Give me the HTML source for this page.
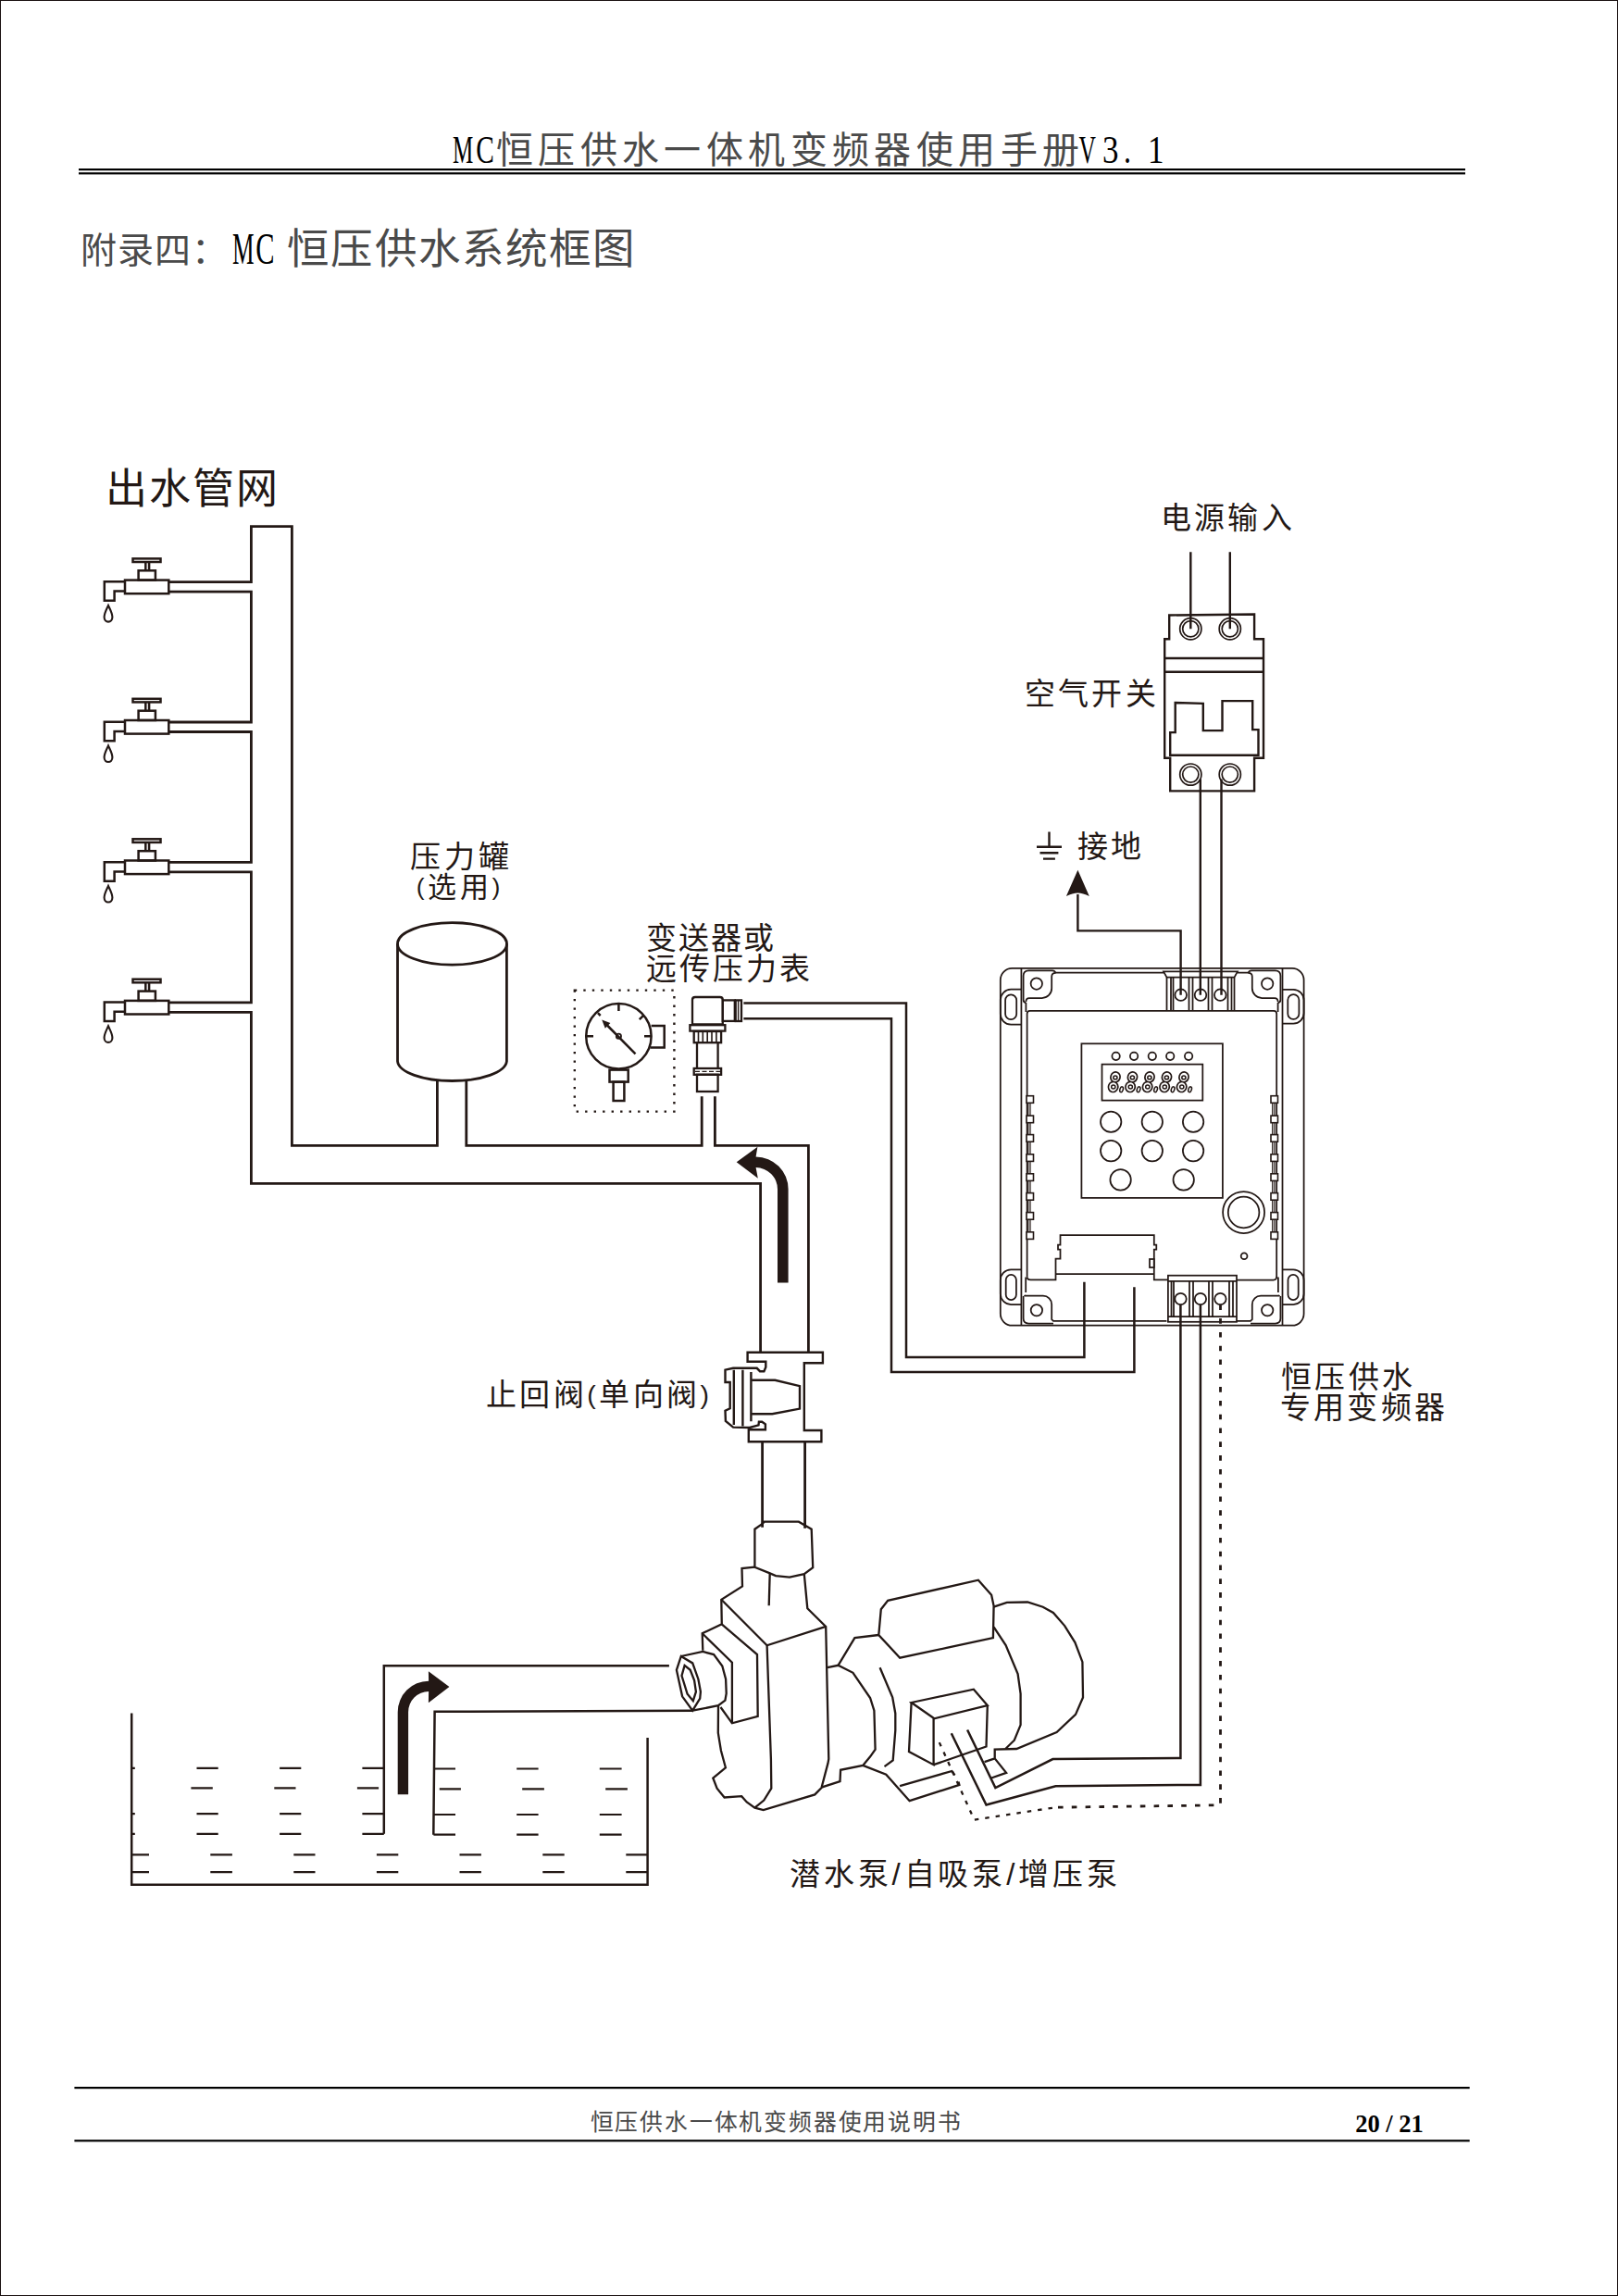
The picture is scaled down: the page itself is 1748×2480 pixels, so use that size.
<!DOCTYPE html>
<html lang="zh-CN"><head><meta charset="utf-8"><title>MC恒压供水系统框图</title>
<style>
html,body{margin:0;padding:0;background:#fff}
body{width:1748px;height:2480px;position:relative;overflow:hidden;font-family:"Liberation Serif",serif;color:#000}
.pg{position:absolute;left:0;top:0;width:1746px;height:2478px;border:1px solid #1a1010}
.t{position:absolute;white-space:nowrap;line-height:1;margin:0;font-weight:normal}
.lb{color:#231815;font-family:"Liberation Sans",sans-serif}
.ss{color:#4a4a4a}
.pr{font-size:0.86em;position:relative;top:-0.06em}
svg{position:absolute;left:0;top:0}
</style></head><body>
<div class="pg"></div>
<svg width="1748" height="2480" viewBox="0 0 1748 2480">
<!-- header / footer rules -->
<g fill="#000">
<rect x="85" y="182" width="1498" height="2.2"/>
<rect x="85" y="186.2" width="1498" height="2.2"/>
<rect x="80.4" y="2254" width="1507.3" height="2.2"/>
<rect x="80.4" y="2311.2" width="1507.3" height="2.2"/>
</g>
<defs>
<g id="fct" fill="none" stroke="#231815" stroke-width="2.5">
<rect x="135" y="626.6" width="47.3" height="14.6"/>
<rect x="149.6" y="616.3" width="18.3" height="10.3"/>
<path d="M157.3,607V616.3M161.1,607V616.3"/>
<rect x="143.5" y="603.4" width="30" height="3.6"/>
<path d="M135,628.3H112.8V648.8H123.6V638.5H135"/>
<path stroke-width="2.1" d="M117,654C115.2,658 112.6,662.5 112.6,666.6C112.6,669.7 114.6,671.6 117,671.6C119.4,671.6 121.4,669.7 121.4,666.6C121.4,662.5 118.8,658 117,654Z"/>
</g>
</defs>
<use href="#fct"/>
<use href="#fct" y="151.4"/>
<use href="#fct" y="302.9"/>
<use href="#fct" y="454.3"/>
<g fill="none" stroke="#231815" stroke-width="2.8" stroke-linejoin="miter">
<!-- main pipe network -->
<path d="M182.3,628.6H271.4V568.6H315.4V1237.4H472.4V1168"/>
<path d="M182.3,639.1H271.4V780H182.3M182.3,790.5H271.4V931.4H182.3M182.3,941.9H271.4V1082.8H182.3M182.3,1093.3H271.4V1278.3H821.6V1460.8"/>
<path d="M503.8,1168V1237.4H758.2V1184.2M772.4,1184.2V1237.4H873.4V1460.8"/>
<!-- pressure tank -->
<ellipse cx="488.5" cy="1019.4" rx="59" ry="22.7"/>
<path d="M429.5,1019.4V1146.4A59,22 0 0 0 547.4,1146.4V1019.4"/>
<!-- pipe below check valve to pump -->
<path d="M823.6,1557.2V1649.7M869.6,1557.2V1650.7"/>
</g>
<!-- gauge -->
<rect x="620.8" y="1069.6" width="107.6" height="131" fill="none" stroke="#231815" stroke-width="2.4" stroke-dasharray="2.4 7.1"/>
<g fill="none" stroke="#231815" stroke-width="2.5">
<circle cx="668.4" cy="1119.3" r="35.2"/>
<path d="M668.4,1084.5V1092M633.5,1119.3H641M696,1119.3H703.5M645.9,1094.2L648.7,1097M690.8,1101.1L695.2,1096.8"/>
<path d="M686.5,1138.3L656,1107.5"/>
<circle cx="668.4" cy="1119.3" r="2.6" stroke-width="1.8"/>
<path d="M703.6,1108H717.7V1131.4H702.5"/>
<rect x="658.5" y="1155.6" width="20.2" height="13"/>
<rect x="662.6" y="1168.6" width="11.8" height="20.4"/>
</g>
<path d="M650.2,1101.5L659.4,1104.9L653.8,1110.7Z" fill="#231815"/>
<!-- transmitter -->
<g fill="none" stroke="#231815" stroke-width="2.3">
<path d="M748,1106.3V1080Q748,1077 751,1077H777.8Q780.8,1077 780.8,1080V1106.3Z"/>
<rect x="780.8" y="1080.4" width="13" height="22.5"/>
<rect x="794.7" y="1080.4" width="6.3" height="22.6"/>
<path d="M797.6,1080.4V1103" stroke-width="1.4"/>
<rect x="745.4" y="1107.2" width="38" height="6.4"/>
<rect x="749.7" y="1114" width="29.4" height="12.2"/>
<path d="M754.5,1114V1126.2M759.3,1114V1126.2M764.2,1114V1126.2M769,1114V1126.2M773.9,1114V1126.2" stroke-width="1.6"/>
<path d="M753,1126.2V1154M775.6,1126.2V1154"/>
<rect x="749.7" y="1154" width="29.4" height="6.8"/>
<path d="M751,1157.4H779" stroke-width="1.3" stroke-dasharray="5 2.5"/>
<rect x="753" y="1160.8" width="22.6" height="18.2"/>
</g>
<!-- transmitter cable -->
<path d="M803.4,1083.4H979V1466H1171.4V1384.8M803.4,1100.2H963V1481.9H1225.4V1390.3" fill="none" stroke="#231815" stroke-width="2.5"/>
<!-- flow arrows -->
<path fill="#231815" d="M840,1385.5H851.6V1284.5A35,35 0 0 0 816.6,1249.5L818.4,1238.7L795.7,1255.3L818.8,1272.7L816.6,1261.1A23.4,23.4 0 0 1 840,1284.5Z"/>
<path fill="#231815" d="M429.7,1938.2V1849.2A33.4,33.4 0 0 1 463.1,1815.8L462.9,1805.3L485.4,1821.9L462.9,1839.3L463.1,1827A22.2,22.2 0 0 0 441.1,1849.2V1938.2Z"/>
<!-- check valve -->
<g fill="none" stroke="#231815" stroke-width="2.4" stroke-linejoin="miter">
<path d="M807.6,1460.8H888.9V1472.3H868.8V1545H887.4V1557.2H808.8V1544.2H826.9V1538.3L823.2,1535.7H819.9L819.5,1539.4L809.9,1542L792.1,1541.6L783.9,1534.9L783.5,1523.8L788.7,1521.2V1493H783.5V1479.7L792.1,1477.8H817.7L821,1481.2H825.4L827.3,1476.7V1470.8H807.6Z"/>
<path d="M792.8,1479.7V1539M802.4,1479.7V1540.5M811.4,1481.9V1535.3"/>
<path d="M812.1,1490.8H837.3L864,1497.1V1521.6L834.3,1527.2H812.1"/>
</g>

<!-- water tank and inlet pipe -->
<g fill="none" stroke="#231815" stroke-width="2.5">
<path d="M142.2,1850.4V2035.8H699.6L699.6,1876.9"/>
<path d="M414.8,1980.7V1799.3H722.9M468.3,1981.7L469.6,1848.8L748.2,1847.7"/>
</g>
<g fill="none" stroke="#231815" stroke-width="2.2">
<path d="M142,1909.8H145.8M212.5,1909.8H235.7M302.1,1909.8H325.3M391.4,1909.8H414.8M468.4,1910.5H492M558.2,1910.5H581.6M647.8,1910.5H671.6"/>
<path d="M206.4,1931.4H229.8M296.3,1931.4H319.5M385.9,1931.4H409.1M474.8,1932.3H497.9M564.2,1932.3H587.9M654.2,1932.3H677.9"/>
<path d="M142,1959.2H145.8M212.5,1959.2H235.7M302.1,1959.2H325.3M391.4,1959.2H414.8M468.4,1960H492M558.2,1960H581.6M647.8,1960H671.6"/>
<path d="M142,1980.9H145.8M212.5,1980.9H235.7M302.1,1980.9H325.3M391.4,1980.9H414.8M468.4,1981.7H492M558.2,1981.7H581.6M647.8,1981.7H671.6"/>
<path d="M142,2003.4H161M227.3,2003.4H250.9M317.3,2003.4H340.5M406.9,2003.4H430.3M496.5,2003.4H519.9M586.3,2003.4H609.7M676.3,2003.4H699.6"/>
<path d="M142,2022.2H161M227.3,2022.2H250.9M317.3,2022.2H340.5M406.9,2022.2H430.3M496.5,2022.2H519.9M586.3,2022.2H609.7M676.3,2022.2H699.6"/>
</g>
<!-- pump -->
<g fill="none" stroke="#231815" stroke-width="2.3" stroke-linejoin="miter">
<path d="M825.8,1643.7L862.9,1643.7L876.7,1651.7L878.2,1693.2L868.8,1700.1L853,1703.6L838.1,1702.1L831.2,1699.1L815.4,1692.7L815.4,1651.7L823.3,1646.2Z"/>
<path d="M868.8,1700.1L872.3,1737.2L892.2,1756.9L895.3,1900L894.5,1904.4L887.7,1930.3"/>
<path d="M831.7,1699.6L830.7,1734.2"/>
<path d="M815.4,1692.7L801.5,1694L802,1713.5L779.3,1727.8L779.8,1754.4L758.7,1764.3L759.3,1782.8"/>
<path d="M779.3,1727.8L828.6,1777.3L892.2,1756.9"/>
<path d="M828.6,1777.3L832.9,1900L833.3,1931.6L825.3,1944.6L815.4,1952.6"/>
<path d="M779.7,1754.4L818,1787.1L818.7,1853.9L790.9,1861.3L778.5,1844"/>
<path d="M758.7,1764.3L790.9,1795.8V1861.3"/>
<path d="M735.8,1789L759.3,1784L771.1,1787.1L780.3,1799.5L784.1,1813.7L784.7,1829.2L783.4,1836.6L776,1842.2L748.2,1847.7"/>
<path d="M735.8,1789L748.2,1796.4L754.4,1813.7L756.9,1827.3L756.2,1834.7L748.2,1847.7L737.1,1832.3L730.9,1803.8Z"/>
<path d="M739.6,1798.9L745.7,1803.8L750.1,1815L751.9,1827.3L748.8,1837.2L742.6,1829.8L736.5,1810Z"/>
<path d="M776,1842.2L775.8,1871.6L778.9,1890.8L783.9,1909.3L770.3,1920.5L774.6,1931.6L782.6,1941.5L801.2,1940.2L806.7,1946.4L815.4,1952.6L824.7,1955.1L880.3,1938.4L888.3,1930.3L907.5,1924.2L908.1,1911.8L932.2,1906.9L940,1897.6L945.6,1889.6L944.4,1847.6L940.1,1834L921.5,1806.8L905.5,1798.8L894,1801.2"/>
<path d="M932.2,1906.9L957.3,1916.7L982.6,1945.2L1036.4,1927.9L1035.5,1924.5M972.1,1929.1L1028.4,1913L1031.5,1917.4"/>
<path d="M905.5,1798.8L923.4,1769.1L949.3,1766"/>
<path d="M949.3,1766L951.8,1738.2L959.2,1728.9L1056.9,1706.7L1071.1,1722.8L1073.6,1734.5L1072.9,1769.1L972.2,1790.7Z"/>
<path d="M1073.6,1735.7L1087.8,1730.8L1110.1,1730.5L1126.7,1735.7L1137.9,1741.9L1150.2,1756.1L1161.4,1774.1L1169.4,1795.1L1170,1833.4L1162,1851.9L1141.6,1871.1L1098.2,1889L1074.7,1889.6V1899.4L1063.6,1903.2M1074.7,1899.4L1087.1,1914.9L1071,1920.5"/>
<path d="M1073.6,1757.4L1086.6,1777.1L1099.6,1808L1102.6,1829.7L1102.6,1863.1L1095.8,1879.7L1086.5,1888.8"/>
<path d="M950.6,1801.2L964.2,1833.4L967.3,1850.7L967.3,1869.2L964.7,1901.3L955.5,1908.1"/>
<path d="M984.6,1839L1051.9,1824.7L1066.8,1842L1009.3,1856.3Z"/>
<path d="M984.6,1839L982,1892L1008.6,1906.2V1856.3M1066.8,1842L1065.5,1886.5L1008.6,1906.2"/>
</g>
<!-- motor cables -->
<g fill="none" stroke="#231815" stroke-width="2.5">
<path d="M1027.8,1872.2L1065.5,1949.5L1140.5,1929.2L1296.9,1927.9V1409"/>
<path d="M1045.1,1868.5L1075.4,1931L1137.4,1900.1L1275.4,1898.9V1409"/>
<path d="M1014.8,1882.1L1052.5,1965.6L1140,1952.3" stroke-width="2.3" stroke-dasharray="4.5 7"/>
<path d="M1143,1952.2L1318.5,1949.8V1404" stroke-width="2.8" stroke-dasharray="5.6 9.2"/>
</g>
<!-- breaker -->
<g fill="none" stroke="#231815" stroke-width="2.4">
<path d="M1286.3,596.3V679.3M1328.8,596.3V679.3"/>
<path d="M1263.2,664.5L1355.1,663.5V690.2H1365V818.8H1355.1V854.4H1264.2V818.8H1258.2V690.2H1263.2Z"/>
<path d="M1259,711H1364M1259,725.8H1364"/>
<path d="M1264.2,815.8V791.1H1269.7V759L1299.8,759.8V789.1H1320.5V757.1H1353.2V788.1H1359.5V815.8Z"/>
<path d="M1296.8,841.5V1074.7M1319.5,841.5V1074.7"/>
<path d="M1275.6,1074.7V1005.4H1164.4V966"/>
</g>
<g fill="none" stroke="#231815" stroke-width="1.7">
<circle cx="1286.3" cy="679.3" r="11.6"/><circle cx="1286.3" cy="679.3" r="8.6"/>
<circle cx="1328.8" cy="679.3" r="11.6"/><circle cx="1328.8" cy="679.3" r="8.6"/>
<circle cx="1286.3" cy="836.6" r="11.6"/><circle cx="1286.3" cy="836.6" r="8.6"/>
<circle cx="1328.8" cy="836.6" r="11.6"/><circle cx="1328.8" cy="836.6" r="8.6"/>
</g>
<path d="M1164.4,939.7L1176.8,968.1Q1170,964.6 1164.4,964.6Q1158.8,964.6 1151.9,968.1Z" fill="#231815"/>
<!-- ground symbol -->
<path d="M1133.5,898.5V914.5M1120,914.8H1147M1123.5,921.2H1143.4M1127,927.6H1139.9" fill="none" stroke="#231815" stroke-width="2.4"/>

<!-- VFD -->
<g fill="none" stroke="#231815" stroke-width="1.75">
<rect x="1080.8" y="1045.9" width="327.8" height="385.8" rx="12.6"/>
<path d="M1103.4,1046V1431.6M1385.5,1046V1431.6"/>
<!-- ears -->
<path d="M1103.4,1068.7H1092.2A11.4,11.4 0 0 0 1080.8,1080.1V1095.3A11.4,11.4 0 0 0 1092.2,1106.7H1103.4"/>
<path d="M1103.4,1371.3H1092.2A11.4,11.4 0 0 0 1080.8,1382.7V1397.6A11.4,11.4 0 0 0 1092.2,1409H1103.4"/>
<path d="M1385.5,1068.9H1397.2A11.4,11.4 0 0 1 1408.6,1080.3V1094.2A11.4,11.4 0 0 1 1397.2,1105.6H1385.5"/>
<path d="M1385.5,1371.3H1397.2A11.4,11.4 0 0 1 1408.6,1382.7V1397.6A11.4,11.4 0 0 1 1397.2,1409H1385.5"/>
<rect x="1086.1" y="1074.3" width="12.1" height="26.9" rx="6"/>
<rect x="1086.7" y="1376.9" width="11.2" height="27.1" rx="5.6"/>
<rect x="1391.3" y="1074.1" width="12.1" height="26.8" rx="6"/>
<rect x="1391.5" y="1376.9" width="11.2" height="27.1" rx="5.6"/>
<!-- corner plates -->
<path d="M1105.6,1080V1054Q1105.6,1048.3 1111.3,1048.3H1137Q1139.5,1048.3 1140.5,1050.7H1257"/>
<path d="M1108.4,1082Q1108.4,1078 1112,1078H1125.7A10.5,10.5 0 0 0 1136.2,1067.5V1055Q1136.2,1050.8 1140.5,1050.8"/>
<path d="M1383.4,1080V1054Q1383.4,1048.3 1377.7,1048.3H1352Q1349.5,1048.3 1348.5,1050.7H1337"/>
<path d="M1380.6,1082Q1380.6,1078 1377,1078H1363.3A10.5,10.5 0 0 1 1352.8,1067.5V1055Q1352.8,1050.8 1348.5,1050.8"/>
<path d="M1106.5,1399.1Q1107,1399.7 1110.8,1399.7H1126.9A9.3,9.3 0 0 1 1136.2,1409V1425.1L1138,1426.9H1260.4"/>
<path d="M1105.6,1400V1424Q1105.6,1429.5 1111.3,1429.5H1138"/>
<path d="M1382.5,1399.1Q1382,1399.7 1378.2,1399.7H1362.1A9.3,9.3 0 0 0 1352.8,1409V1425.1L1351,1426.9H1336"/>
<path d="M1383.4,1400V1424Q1383.4,1429.5 1377.7,1429.5H1351"/>
<circle cx="1119.8" cy="1062.6" r="6.2"/><circle cx="1369.2" cy="1062.6" r="6.2"/>
<circle cx="1119.9" cy="1415.2" r="6.2"/><circle cx="1369.2" cy="1415.2" r="6.2"/>
<!-- inner panel -->
<path d="M1109.6,1379.3V1095Q1109.6,1091.9 1112.7,1091.9H1376.1Q1379.2,1091.9 1379.2,1095V1380"/>
<path d="M1109.6,1379.3Q1110,1382.4 1113.3,1382.4H1140.5V1359.6H1145.5V1349.7H1143V1344.7H1145.5V1334.2H1246.8V1344.7H1249.3V1349.7H1246.8V1382.4H1261.6"/>
<path d="M1141,1376.2H1246.8"/>
<path d="M1379.2,1379Q1379.2,1382.5 1375.7,1382.5H1336M1380.9,1379.4V1396M1108.2,1379.4V1396M1105.6,1080Q1105.6,1082.5 1108.4,1083.5V1093M1383.4,1080Q1383.4,1082.5 1380.6,1083.5V1093"/>
<rect x="1242" y="1360" width="4.8" height="9"/>
<!-- top terminal block -->
<path d="M1257,1049.4H1337L1333.5,1055.7H1260.5Z"/>
<path d="M1260.5,1055.7V1091M1333.5,1055.7V1091"/>
<path d="M1265,1056V1091M1267.5,1056V1091M1284.5,1056V1091M1288.5,1056V1091M1305.5,1056V1091M1309.5,1056V1091M1326.5,1056V1091M1330.5,1056V1091"/>
<circle cx="1275.7" cy="1074.7" r="6.3"/><circle cx="1297" cy="1074.7" r="6.3"/><circle cx="1318.3" cy="1074.7" r="6.3"/>
<!-- bottom terminal block -->
<rect x="1261.9" y="1377.7" width="74.1" height="50.1"/>
<path d="M1261.9,1383.9H1336"/>
<path d="M1265.5,1384V1422M1268,1384V1422M1285,1384V1422M1289,1384V1422M1306,1384V1422M1310,1384V1422M1328,1384V1422M1332,1384V1422M1262,1422H1336"/>
<circle cx="1275.5" cy="1403" r="6.2"/><circle cx="1296.9" cy="1403" r="6.2"/><circle cx="1318.4" cy="1403" r="6.2"/>
<!-- keypad -->
<rect x="1168.4" y="1127.3" width="152.5" height="166.6"/>
<rect x="1190.5" y="1149.6" width="108.8" height="39"/>
<circle cx="1205.6" cy="1140.8" r="4.2"/><circle cx="1225.1" cy="1140.8" r="4.2"/><circle cx="1244.8" cy="1140.8" r="4.2"/><circle cx="1264.2" cy="1140.8" r="4.2"/><circle cx="1284.1" cy="1140.8" r="4.2"/>
<circle cx="1200.2" cy="1211.7" r="11.2"/><circle cx="1244.8" cy="1211.7" r="11.2"/><circle cx="1289.1" cy="1211.7" r="11.2"/>
<circle cx="1200.2" cy="1243.1" r="11.2"/><circle cx="1244.8" cy="1243.1" r="11.2"/><circle cx="1289.1" cy="1243.1" r="11.2"/>
<circle cx="1210.6" cy="1274.4" r="11.2"/><circle cx="1278.7" cy="1274.4" r="11.2"/>
<circle cx="1343.6" cy="1309.5" r="22.5"/><circle cx="1343.6" cy="1309.5" r="16.8"/>
<circle cx="1344.1" cy="1356.8" r="3.4"/>
<!-- side vent tabs -->
<path d="M1110.8,1184V1338M1113,1184V1338M1374.7,1184V1338M1376.9,1184V1338" stroke-width="1.2"/>
</g>
<g fill="#fff" stroke="#231815" stroke-width="1.6">
<rect x="1109" y="1183.7" width="7.5" height="7.6"/><rect x="1109" y="1205.1" width="7.5" height="7.6"/><rect x="1109" y="1225.6" width="7.5" height="7.6"/><rect x="1109" y="1246.8" width="7.5" height="7.6"/><rect x="1109" y="1267.8" width="7.5" height="7.6"/><rect x="1109" y="1288.6" width="7.5" height="7.6"/><rect x="1109" y="1309.6" width="7.5" height="7.6"/><rect x="1109" y="1330.8" width="7.5" height="7.6"/>
<rect x="1373" y="1183.7" width="7.5" height="7.6"/><rect x="1373" y="1205.1" width="7.5" height="7.6"/><rect x="1373" y="1225.6" width="7.5" height="7.6"/><rect x="1373" y="1246.8" width="7.5" height="7.6"/><rect x="1373" y="1267.8" width="7.5" height="7.6"/><rect x="1373" y="1288.6" width="7.5" height="7.6"/><rect x="1373" y="1309.6" width="7.5" height="7.6"/><rect x="1373" y="1330.8" width="7.5" height="7.6"/>
</g>
<!-- 7-seg display digits -->
<g id="dg">
<g fill="#fff" stroke="#231815" stroke-width="3.4">
<ellipse cx="1205" cy="1163.4" rx="4.2" ry="4.7" transform="rotate(20 1205 1163.4)"/><ellipse cx="1202.6" cy="1174" rx="4.3" ry="4.7" transform="rotate(20 1202.6 1174)"/>
</g>
<g fill="#fff" stroke="none">
<ellipse cx="1205" cy="1163.4" rx="4.2" ry="4.7" transform="rotate(20 1205 1163.4)"/><ellipse cx="1202.6" cy="1174" rx="4.3" ry="4.7" transform="rotate(20 1202.6 1174)"/>
</g>
<g fill="#fff" stroke="#231815" stroke-width="1.5">
<ellipse cx="1204.9" cy="1163.9" rx="2.1" ry="1.9"/><ellipse cx="1202.8" cy="1173.9" rx="2.1" ry="2"/>
<ellipse cx="1211.6" cy="1176.8" rx="1.7" ry="3" transform="rotate(18 1211.6 1176.8)"/>
</g>
</g>
<use href="#dg" x="18.5"/><use href="#dg" x="37"/><use href="#dg" x="55.5"/><use href="#dg" x="74"/>

<!-- latin half-width glyphs -->
<g font-family="Liberation Serif" fill="#000" font-size="42">
<text x="489" y="175.6" textLength="22.3" lengthAdjust="spacingAndGlyphs">M</text>
<text x="514.2" y="175.6" textLength="19.6" lengthAdjust="spacingAndGlyphs">C</text>
<text x="1165.6" y="175.6" textLength="18.4" lengthAdjust="spacingAndGlyphs">V</text>
<text x="1191" y="175.6" textLength="17.5" lengthAdjust="spacingAndGlyphs">3</text>
<text x="1214" y="175.6" textLength="8" lengthAdjust="spacingAndGlyphs">.</text>
<text x="1240" y="175.6" textLength="17.5" lengthAdjust="spacingAndGlyphs">1</text>
</g>
<g font-family="Liberation Serif" fill="#000" font-size="47.5">
<text x="251" y="284.5" textLength="23.6" lengthAdjust="spacingAndGlyphs">M</text>
<text x="276.2" y="284.5" textLength="20.3" lengthAdjust="spacingAndGlyphs">C</text>
</g>
<!--DIAGRAM4-->
</svg>
<div class="t ss" style="left:535.7px;top:142.8px;font-size:40px;letter-spacing:5.41px">恒压供水一体机变频器使用手册</div>
<div class="t ss" style="left:87px;top:250.7px;font-size:39px;letter-spacing:1px">附录四：</div>
<div class="t ss" style="left:310.4px;top:247.4px;font-size:45.5px;letter-spacing:1.1px">恒压供水系统框图</div>
<div class="t lb" style="left:113.5px;top:505.5px;font-size:45px;letter-spacing:2.2px">出水管网</div>
<div class="t lb" style="left:443px;top:908.8px;font-size:33px;letter-spacing:4px">压力罐</div>
<div class="t lb" style="left:449.7px;top:943px;font-size:31px;letter-spacing:3.6px"><span class="pr">(</span>选用<span class="pr">)</span></div>
<div class="t lb" style="left:697.5px;top:996.6px;font-size:33px;letter-spacing:2.2px">变送器或</div>
<div class="t lb" style="left:697.6px;top:1029.8px;font-size:33px;letter-spacing:3.2px">远传压力表</div>
<div class="t lb" style="left:1253.7px;top:542.6px;font-size:33px;letter-spacing:3.4px">电源输入</div>
<div class="t lb" style="left:1107px;top:732.7px;font-size:33px;letter-spacing:3.2px">空气开关</div>
<div class="t lb" style="left:1163.7px;top:898.1px;font-size:33px;letter-spacing:3.5px">接地</div>
<div class="t lb" style="left:524.8px;top:1490px;font-size:33px;letter-spacing:3.47px">止回阀<span class="pr">(</span>单向阀<span class="pr">)</span></div>
<div class="t lb" style="left:1384px;top:1471.2px;font-size:33px;letter-spacing:3.4px">恒压供水</div>
<div class="t lb" style="left:1383px;top:1504.4px;font-size:33px;letter-spacing:3.2px">专用变频器</div>
<div class="t lb" style="left:852.8px;top:2008px;font-size:33px;letter-spacing:3.9px">潜水泵/自吸泵/增压泵</div>
<div class="t ss" style="left:637.6px;top:2281.3px;font-size:24.8px;letter-spacing:1.8px">恒压供水一体机变频器使用说明书</div>
<div class="t" style="left:1464.2px;top:2280.6px;font-size:26.5px;font-weight:bold">20 / 21</div>

</body></html>
